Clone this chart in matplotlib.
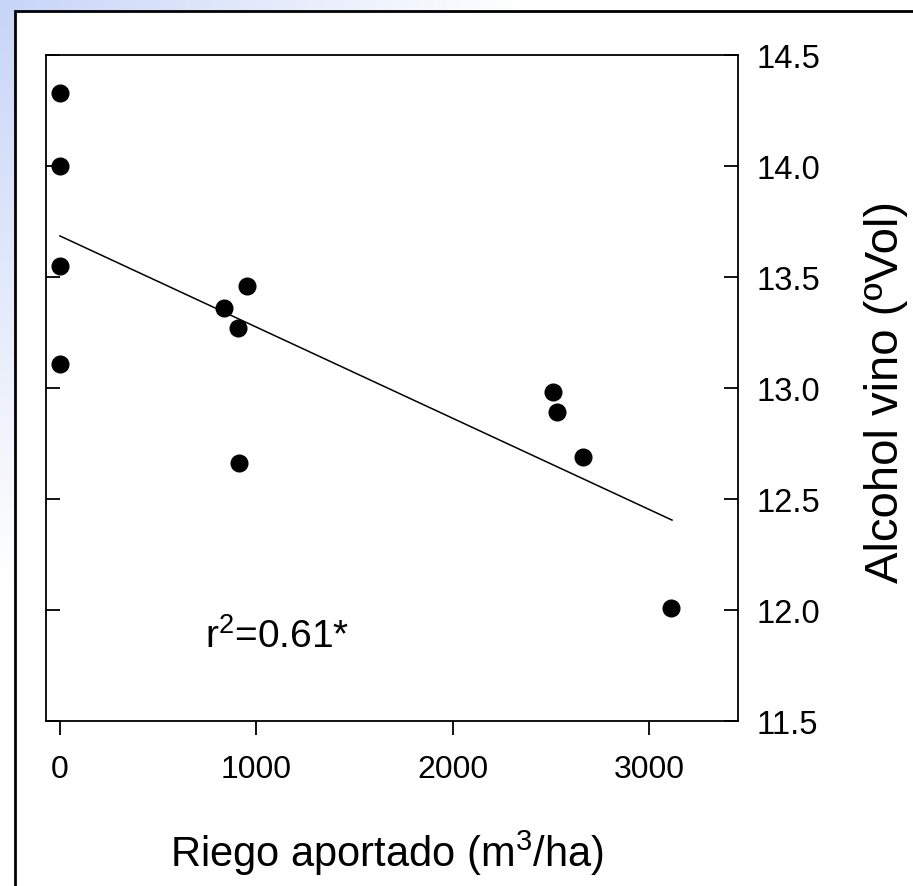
import numpy as np
import matplotlib.pyplot as plt
from matplotlib.patches import Rectangle

# alcohol del vino frente al riego aportado
riego = [0, 0, 0, 0, 833, 952, 907, 912, 2511, 2531, 2664, 3112]
alcohol = [14.33, 14.00, 13.55, 13.11, 13.36, 13.46, 13.27, 12.66, 12.98, 12.89, 12.69, 12.01]

# recta de regresion (extremos)
fit_x = [0, 3117]
fit_y = [13.685, 12.405]

xticks = [0, 1000, 2000, 3000]
yticks = [11.5, 12.0, 12.5, 13.0, 13.5, 14.0, 14.5]

plt.rcParams['font.family'] = ['Liberation Sans', 'DejaVu Sans']
plt.rcParams['mathtext.fontset'] = 'custom'
plt.rcParams['mathtext.rm'] = 'Liberation Sans'
plt.rcParams['mathtext.it'] = 'Liberation Sans'

fig = plt.figure(figsize=(9.13, 8.87), dpi=100)

# fondo degradado azul (diapositiva)
H, W = 887, 913
yy, xx = np.mgrid[0:H, 0:W]
f = np.clip(1 - np.hypot(xx, yy * 0.9) / 520, 0, 1)[..., None]
blue = np.array([200, 213, 248]) / 255
img = (1 - f) * np.ones(3) + f * blue
bg = fig.add_axes([0, 0, 1, 1], zorder=-2)
bg.imshow(img, aspect='auto')
bg.axis('off')

# panel blanco con borde
fig.add_artist(Rectangle((15 / W, -0.01), 1.0, 1 - 12 / H + 0.01, transform=fig.transFigure,
                         facecolor='white', edgecolor='black', lw=2, zorder=-1))

ax = fig.add_axes([46 / W, 1 - 722 / H, 692 / W, 666 / H])
ax.set_facecolor('white')

ax.plot(riego, alcohol, 'o', color='black', markersize=12, zorder=3)
ax.plot(fit_x, fit_y, color='black', lw=1.1)

ax.set_xlim(-71, 3453)
ax.set_ylim(11.5, 14.5)
ax.set_xticks(xticks)
ax.set_xticklabels([str(t) for t in xticks])
ax.set_yticks(yticks)
ax.set_yticklabels(['%.1f' % t for t in yticks])

for s in ax.spines.values():
    s.set_linewidth(1.3)

ax.tick_params(axis='x', direction='out', length=10, width=1.3, labelsize=23, pad=14,
               top=False)
ax.tick_params(axis='y', direction='in', length=10, width=1.3, labelsize=23.5, pad=13,
               left=True, right=True, labelleft=False, labelright=True)

ax.set_xlabel('Riego aportado (m$^3$/ha)', fontsize=30)
ax.xaxis.label.set_va('baseline')
ax.xaxis.set_label_coords(0.493, -0.2177)

ax.yaxis.set_label_position('right')
ax.set_ylabel('Alcohol vino (ºVol)', fontsize=34)
ax.yaxis.label.set_va('center')
ax.yaxis.set_label_coords(1.214, 0.495)

ax.text(0.230, 0.111, 'r$^2$=0.61*', transform=ax.transAxes, fontsize=28, va='baseline')

plt.savefig('out.png', dpi=100)
